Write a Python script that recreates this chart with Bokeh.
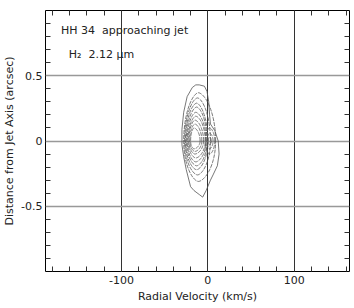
import numpy as np
from bokeh.plotting import figure
from bokeh.models import FixedTicker, LinearAxis, Label, Range1d
from bokeh.embed import file_html
from bokeh.resources import INLINE

# axis ticks
x_major = [-100, 0, 100]
x_minor = list(range(-180, 161, 20))
y_major = [-0.5, 0, 0.5]
y_minor = [-0.9, -0.8, -0.7, -0.6, -0.4, -0.3, -0.2, -0.1, 0.1, 0.2, 0.3, 0.4, 0.6, 0.7, 0.8, 0.9]

# outermost contour (km/s, arcsec)
outer_v = [-10, -4, -1, 1, 2, 3, 8, 12, 13, 11, 6, 3, -2, -6, -10, -16, -20, -25, -28, -30, -30, -28, -24, -18, -14, -10]
outer_y = [0.43, 0.42, 0.38, 0.30, 0.20, 0.13, 0.08, 0.0, -0.10, -0.19, -0.26, -0.30, -0.38, -0.43, -0.41,
           -0.38, -0.35, -0.22, -0.12, -0.03, 0.09, 0.22, 0.34, 0.41, 0.43, 0.43]

# inner contour extents
inner_vc   = [-11, -12, -13, -13, -14, -14, -15, -15, -16]
inner_vmin = [-28, -27, -26, -25, -24, -23, -22, -21, -20]
inner_vmax = [9, 3, 0, -1, -2, -3, -5, -7, -9]
inner_ymax = [0.37, 0.33, 0.29, 0.26, 0.22, 0.19, 0.16, 0.13, 0.10]
inner_ymin = [-0.31, -0.26, -0.22, -0.19, -0.16, -0.13, -0.10, -0.08, -0.06]

# secondary peak near zero velocity
peak_vc   = [2, 2, 2]
peak_vmin = [-3, -1, 0.5]
peak_vmax = [8, 6, 4]
peak_ymax = [0.10, 0.06, 0.03]
peak_ymin = [-0.10, -0.06, -0.03]


def shape(vc, vmin, vmax, ymin, ymax):
    t = np.linspace(0, 2 * np.pi, 90)
    c, s = np.cos(t), np.sin(t)
    cc = np.sign(c) * np.abs(c) ** 1.2
    v = vc + np.where(c > 0, vmax - vc, vc - vmin) * cc
    y = np.where(s > 0, ymax, -ymin) * s
    return list(v), list(y)


p = figure(width=354, height=305, output_backend="svg", toolbar_location=None,
           x_range=Range1d(-188, 164), y_range=Range1d(-1, 1),
           min_border_left=44, min_border_right=5, min_border_top=10, min_border_bottom=30)
p.background_fill_color = "white"
p.border_fill_color = "white"
p.outline_line_color = "black"
p.outline_line_width = 1

# grid
p.xgrid.ticker = FixedTicker(ticks=x_major)
p.ygrid.ticker = FixedTicker(ticks=y_major)
p.xgrid.grid_line_color = "#333333"
p.xgrid.grid_line_width = 1
p.ygrid.grid_line_color = "#999999"
p.ygrid.grid_line_width = 1.6

font = "DejaVu Sans"


def style_axis(ax):
    ax.major_tick_in = 0
    ax.major_tick_out = 0
    ax.minor_tick_in = 5
    ax.minor_tick_out = 0
    ax.axis_line_color = None
    ax.major_tick_line_color = "#333333"
    ax.minor_tick_line_color = "#333333"
    ax.major_label_text_font = font
    ax.major_label_text_font_size = "11px"
    ax.major_label_text_color = "#222222"
    ax.axis_label_text_font = font
    ax.axis_label_text_font_size = "11px"
    ax.axis_label_text_font_style = "normal"
    ax.axis_label_text_color = "#222222"


p.xaxis.ticker = FixedTicker(ticks=x_major, minor_ticks=x_minor)
p.yaxis.ticker = FixedTicker(ticks=y_major, minor_ticks=y_minor)
p.xaxis.axis_label = "Radial Velocity (km/s)"
p.yaxis.axis_label = "Distance from Jet Axis (arcsec)"
p.xaxis.major_label_overrides = {-100: "-100", 0: "0", 100: "100"}
p.yaxis.major_label_overrides = {-0.5: "-0.5", 0: "0", 0.5: "0.5"}
p.xaxis.axis_label_standoff = 3
p.yaxis.axis_label_standoff = 2
p.xaxis.major_label_standoff = 4
p.yaxis.major_label_standoff = 3
style_axis(p.xaxis[0])
style_axis(p.yaxis[0])

top = LinearAxis(ticker=FixedTicker(ticks=[], minor_ticks=x_minor))
right = LinearAxis(ticker=FixedTicker(ticks=[], minor_ticks=y_minor))
style_axis(top)
style_axis(right)
p.add_layout(top, "above")
p.add_layout(right, "right")

# contours
p.line(outer_v, outer_y, line_color="#555555", line_width=0.8)
for i in range(len(inner_vc)):
    v, y = shape(inner_vc[i], inner_vmin[i], inner_vmax[i], inner_ymin[i], inner_ymax[i])
    p.line(v, y, line_color="#555555", line_width=0.8, line_dash="4 1")
for i in range(len(peak_vc)):
    v, y = shape(peak_vc[i], peak_vmin[i], peak_vmax[i], peak_ymin[i], peak_ymax[i])
    p.line(v, y, line_color="#555555", line_width=0.8, line_dash="4 1")

p.add_layout(Label(x=-170, y=0.845, text="HH 34\u00a0\u00a0approaching jet", text_font=font,
                   text_font_size="11px", text_color="#222222", text_baseline="middle"))
p.add_layout(Label(x=-161, y=0.665, text="H₂\u00a0\u00a02.12 μm", text_font=font,
                   text_font_size="11px", text_color="#222222", text_baseline="middle"))

open("out.html", "w").write(file_html(p, INLINE))
